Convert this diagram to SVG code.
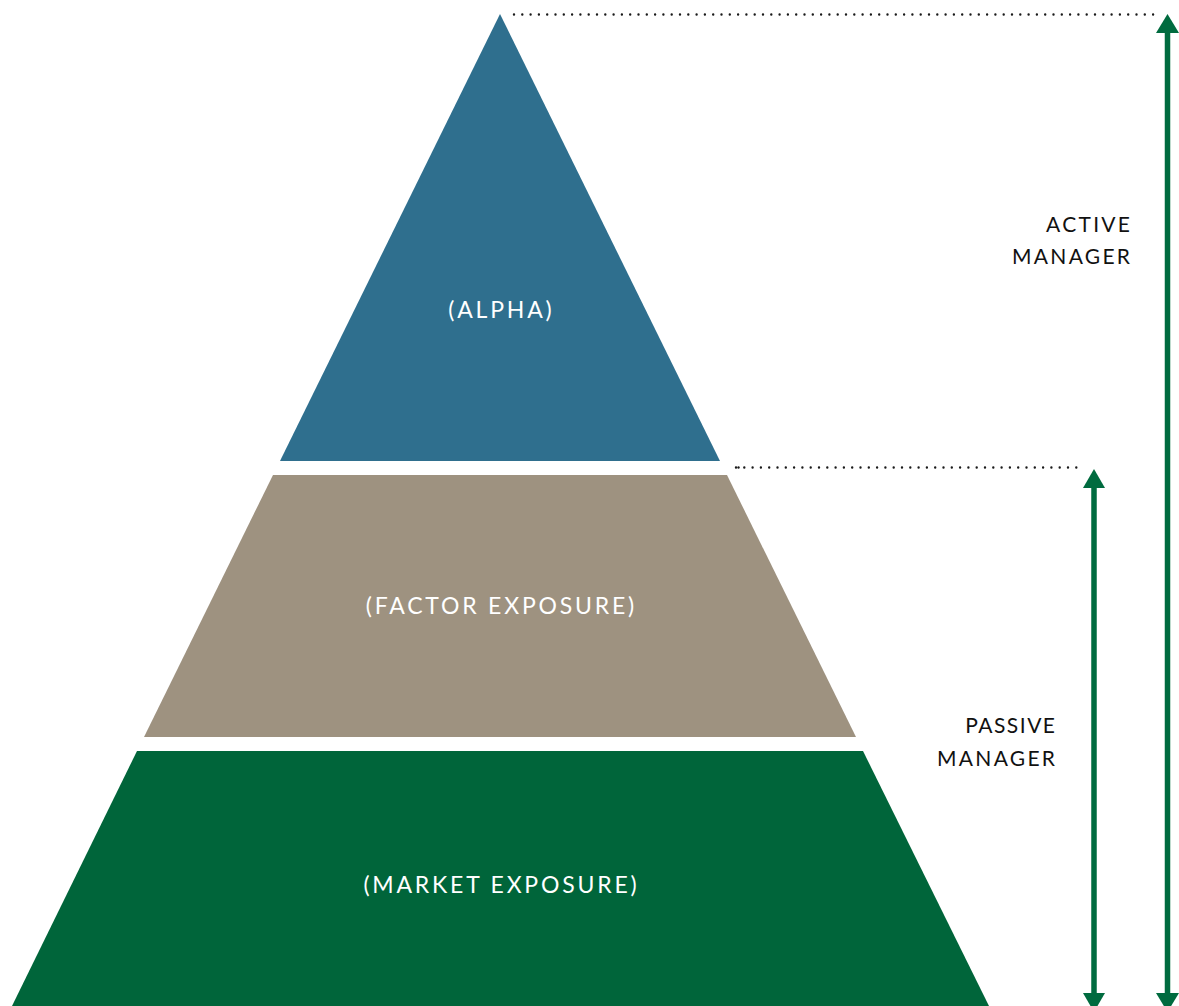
<svg xmlns="http://www.w3.org/2000/svg" width="1179" height="1006" viewBox="0 0 1179 1006">
  <style>
    .tier-label { font-family: Lato, "Open Sans", "Liberation Sans", sans-serif; font-size: 23px; fill: #ffffff; text-anchor: middle; letter-spacing: 2.8px; }
    .side-label { font-family: Lato, "Open Sans", "Liberation Sans", sans-serif; font-size: 21px; fill: #111111; text-anchor: end; letter-spacing: 2.3px; }
    .dots { stroke: #1a1a1a; stroke-width: 2.4; stroke-linecap: round; stroke-dasharray: 0 8.3; fill: none; }
    .shaft { stroke: #006B3F; stroke-width: 5.5; fill: none; }
    .head { fill: #006B3F; }
  </style>

  <!-- pyramid tiers -->
  <g id="alpha">
    <polygon points="500,14 720,461 280,461" fill="#2F6F8E"/>
    <text class="tier-label" x="501.4" y="318">(ALPHA)</text>
  </g>
  <g id="factor-exposure">
    <polygon points="273,475 727,475 856,737 144,737" fill="#9E9280"/>
    <text class="tier-label" x="501.4" y="614">(FACTOR EXPOSURE)</text>
  </g>
  <g id="market-exposure">
    <polygon points="137,751 863,751 989,1006 12,1006" fill="#00653A"/>
    <text class="tier-label" x="501.4" y="893">(MARKET EXPOSURE)</text>
  </g>

  <!-- side annotations -->
  <g id="active-manager">
    <text class="side-label" x="1132.3" y="232">ACTIVE</text>
    <text class="side-label" x="1132.3" y="264">MANAGER</text>
  </g>
  <g id="passive-manager">
    <text class="side-label" x="1056.5" y="733" style="letter-spacing:1.5px">PASSIVE</text>
    <text class="side-label" x="1057.3" y="766">MANAGER</text>
  </g>

  <!-- guide lines and range arrows -->
  <g id="connectors">
    <line class="dots" x1="514" y1="14.5" x2="1160" y2="14.5"/>
    <line class="dots" x1="736" y1="467.5" x2="1083" y2="467.5"/>
    <circle cx="738.5" cy="467.5" r="1.2" fill="#1a1a1a"/>

    <line class="shaft" x1="1167.5" y1="30" x2="1167.5" y2="996"/>
    <polygon class="head" points="1167.5,14 1179,33 1156,33"/>
    <polygon class="head" points="1167.5,1012 1179,993 1156,993"/>

    <line class="shaft" x1="1094" y1="485" x2="1094" y2="996"/>
    <polygon class="head" points="1094,469 1105,488 1083,488"/>
    <polygon class="head" points="1094,1012 1105,993 1083,993"/>
  </g>
</svg>
